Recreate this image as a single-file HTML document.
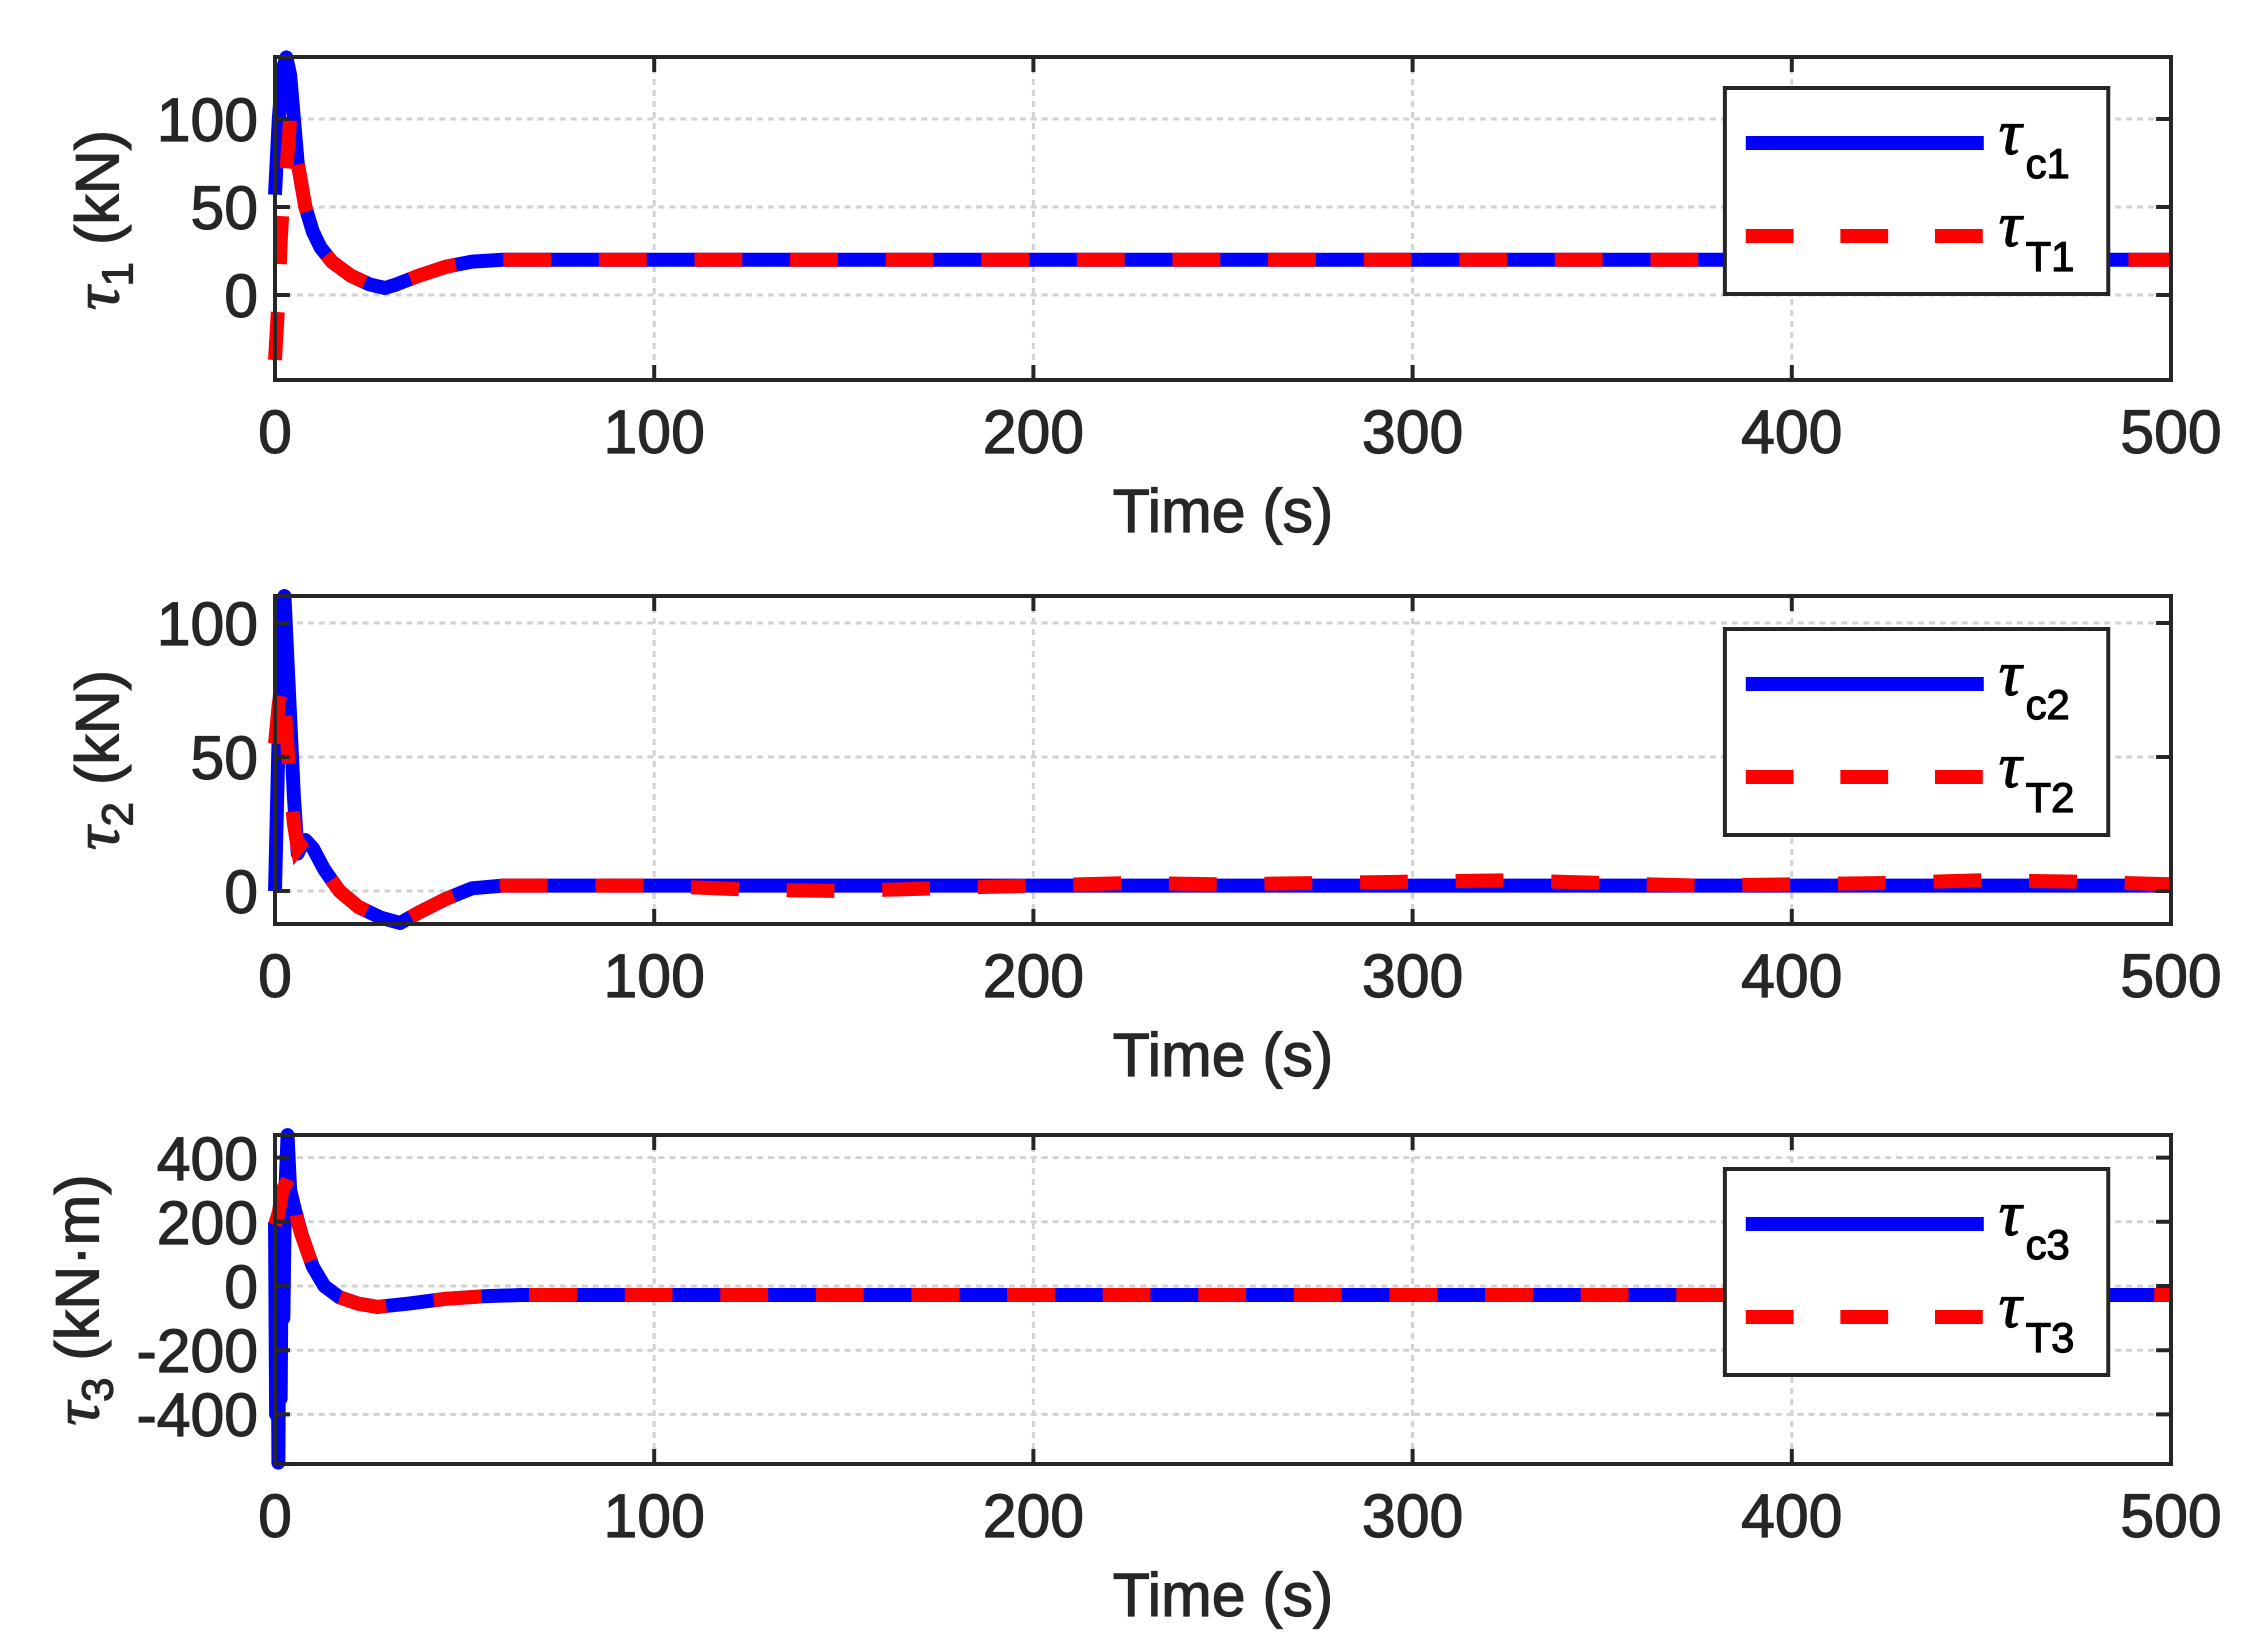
<!DOCTYPE html>
<html><head><meta charset="utf-8"><style>
html,body{margin:0;padding:0;background:#fff}
svg{display:block}
text{font-family:"Liberation Sans",sans-serif;fill:#262626;stroke:#262626;stroke-width:1.2}
.t{font-size:61px}
.g{stroke:#d2d2d2;stroke-width:3;stroke-dasharray:6 5;fill:none}
.ax{stroke:#262626;stroke-width:4;fill:none}
.b{stroke:#0000ff;stroke-width:14;fill:none;stroke-linejoin:round}
.r{stroke:#ff0000;stroke-width:14;fill:none;stroke-dasharray:48 48}
.tau{font-family:"Liberation Serif",serif;font-style:italic;font-size:64px;fill:#000;stroke:#000}
.sub{font-size:42px;fill:#000;stroke:#000}
</style></head><body>
<svg width="2261" height="1646" viewBox="0 0 2261 1646" xmlns="http://www.w3.org/2000/svg">
<g transform="matrix(0.9958,0,0,1,1.155,0)">
<!-- Panel 1 -->
<g>
<path class="g" d="M655.8 57V380M1036.6 57V380M1417.4 57V380M1798.2 57V380M275 119H2179M275 207H2179M275 295H2179"/>
<polyline class="b" points="275,194.7 278.8,119 282.6,69.7 286.4,57.4 290.2,75 294,119 297.8,163 305.5,207 313,231.6 320.7,247.5 332,261.6 351,275.6 370,284.4 385.4,288 396.9,284.4 419.7,275.6 446.4,266.8 473,261.6 503.5,259.8 2179,259.8"/>
<polyline class="r" points="275,360 278.8,295 280.7,242 282.6,207 286.4,172 290.2,119 294,128 297.8,163 305.5,207 313,231.6 320.7,247.5 332,261.6 351,275.6 370,284.4 385.4,288 396.9,284.4 419.7,275.6 446.4,266.8 473,261.6 503.5,259.8 2179,259.8"/>
<rect class="ax" x="275" y="57" width="1904" height="323"/>
<path class="ax" d="M655.8 57v15M1036.6 57v15M1417.4 57v15M1798.2 57v15M655.8 380v-15M1036.6 380v-15M1417.4 380v-15M1798.2 380v-15M275 119h15M275 207h15M275 295h15M2179 119h-15M2179 207h-15M2179 295h-15"/>
<g class="t" text-anchor="end"><text x="258" y="141">100</text><text x="258" y="229">50</text><text x="258" y="317">0</text></g>
<g class="t" text-anchor="middle"><text x="275" y="453">0</text><text x="655.8" y="453">100</text><text x="1036.6" y="453">200</text><text x="1417.4" y="453">300</text><text x="1798.2" y="453">400</text><text x="2179" y="453">500</text>
<text x="1227" y="532">Time (s)</text></g>
<text class="t" transform="translate(118,220) rotate(-90)" text-anchor="middle"><tspan font-family="Liberation Serif,serif" font-style="italic" font-size="66">τ</tspan><tspan font-size="44" dy="14">1</tspan><tspan dy="-14"> (kN)</tspan></text>
<rect x="1731" y="88" width="385" height="206" fill="#fff" stroke="#262626" stroke-width="4"/>
<line x1="1752" y1="143" x2="1991" y2="143" stroke="#0000ff" stroke-width="14"/>
<line x1="1752" y1="236" x2="1991" y2="236" stroke="#ff0000" stroke-width="14" stroke-dasharray="48 47"/>
<text class="tau" x="2006" y="154">τ</text><text class="sub" x="2033" y="178">c1</text>
<text class="tau" x="2006" y="246">τ</text><text class="sub" x="2033" y="271">T1</text>
</g>
<!-- Panel 2 -->
<g>
<path class="g" d="M655.8 596V924M1036.6 596V924M1417.4 596V924M1798.2 596V924M275 623H2179M275 757H2179M275 891H2179"/>
<polyline class="b" points="275,891 278.8,730 282.6,609.6 284.5,596 288.3,676.6 294,797 297.8,853.5 301.7,845.4 305.5,840 313,848 324.5,869.6 339.7,891 358.8,907 381.6,917.8 400.7,923 419.7,912.4 446.4,899 473,888.3 503.5,885.6 2179,885.6"/>
<polyline class="r" points="275,743.6 278.8,703.4 282.6,682 286.4,730.2 290.2,783.8 294,824 297.8,848 301.7,842.8 305.5,840 313,848 324.5,869.6 339.7,891 358.8,907 381.6,917.8 400.7,923 419.7,912.4 446.4,899 473,888.3 503.5,885.6 655.8,885.6 751,889.7 846.2,891 941.4,888.3 1036.6,885.6 1131.8,883 1227,884.3 1322.2,883 1417.4,881.6 1512.6,880.3 1607.8,883 1703,885.6 1798.2,884.3 1893.4,883 1988.6,880.3 2083.8,881.6 2179,884.3"/>
<rect class="ax" x="275" y="596" width="1904" height="328"/>
<path class="ax" d="M655.8 596v15M1036.6 596v15M1417.4 596v15M1798.2 596v15M655.8 924v-15M1036.6 924v-15M1417.4 924v-15M1798.2 924v-15M275 623h15M275 757h15M275 891h15M2179 623h-15M2179 757h-15M2179 891h-15"/>
<g class="t" text-anchor="end"><text x="258" y="645">100</text><text x="258" y="779">50</text><text x="258" y="913">0</text></g>
<g class="t" text-anchor="middle"><text x="275" y="997">0</text><text x="655.8" y="997">100</text><text x="1036.6" y="997">200</text><text x="1417.4" y="997">300</text><text x="1798.2" y="997">400</text><text x="2179" y="997">500</text>
<text x="1227" y="1076">Time (s)</text></g>
<text class="t" transform="translate(118,760) rotate(-90)" text-anchor="middle"><tspan font-family="Liberation Serif,serif" font-style="italic" font-size="66">τ</tspan><tspan font-size="44" dy="14">2</tspan><tspan dy="-14"> (kN)</tspan></text>
<rect x="1731" y="629" width="385" height="206" fill="#fff" stroke="#262626" stroke-width="4"/>
<line x1="1752" y1="684" x2="1991" y2="684" stroke="#0000ff" stroke-width="14"/>
<line x1="1752" y1="777" x2="1991" y2="777" stroke="#ff0000" stroke-width="14" stroke-dasharray="48 47"/>
<text class="tau" x="2006" y="695">τ</text><text class="sub" x="2033" y="719">c2</text>
<text class="tau" x="2006" y="787">τ</text><text class="sub" x="2033" y="812">T2</text>
</g>
<!-- Panel 3 -->
<g>
<path class="g" d="M655.8 1135V1464M1036.6 1135V1464M1417.4 1135V1464M1798.2 1135V1464M275 1157.6H2179M275 1221.8H2179M275 1286H2179M275 1350.2H2179M275 1414.4H2179"/>
<polyline class="b" points="275,1221.8 276.1,1414.4 277.3,1237.9 278.4,1462.6 279.6,1254 280.7,1398.4 281.9,1221.8 283.4,1318 284.9,1205.8 287.6,1135.1 290.2,1189.7 294,1205.8 301.7,1234.6 313,1266.7 324.5,1286 339.7,1297.2 358.8,1303.7 377.8,1306.9 408.3,1303.7 446.4,1298.8 484.4,1296.3 522.5,1295 2179,1295"/>
<polyline class="r" points="275,1225 278.8,1212.2 282.6,1189.7 286.4,1183.3 290.2,1173.6 294,1196.1 297.8,1221.8 301.7,1234.6 313,1266.7 324.5,1286 339.7,1297.2 358.8,1303.7 377.8,1306.9 408.3,1303.7 446.4,1298.8 484.4,1296.3 522.5,1295 2179,1295"/>
<rect class="ax" x="275" y="1135" width="1904" height="329"/>
<path class="ax" d="M655.8 1135v15M1036.6 1135v15M1417.4 1135v15M1798.2 1135v15M655.8 1464v-15M1036.6 1464v-15M1417.4 1464v-15M1798.2 1464v-15M275 1157.6h15M275 1221.8h15M275 1286h15M275 1350.2h15M275 1414.4h15M2179 1157.6h-15M2179 1221.8h-15M2179 1286h-15M2179 1350.2h-15M2179 1414.4h-15"/>
<g class="t" text-anchor="end"><text x="258" y="1180">400</text><text x="258" y="1244">200</text><text x="258" y="1308">0</text><text x="258" y="1372">-200</text><text x="258" y="1436">-400</text></g>
<g class="t" text-anchor="middle"><text x="275" y="1537">0</text><text x="655.8" y="1537">100</text><text x="1036.6" y="1537">200</text><text x="1417.4" y="1537">300</text><text x="1798.2" y="1537">400</text><text x="2179" y="1537">500</text>
<text x="1227" y="1616">Time (s)</text></g>
<text class="t" transform="translate(98,1300) rotate(-90)" text-anchor="middle"><tspan font-family="Liberation Serif,serif" font-style="italic" font-size="66">τ</tspan><tspan font-size="44" dy="14">3</tspan><tspan dy="-14"> (kN·m)</tspan></text>
<rect x="1731" y="1169" width="385" height="206" fill="#fff" stroke="#262626" stroke-width="4"/>
<line x1="1752" y1="1224" x2="1991" y2="1224" stroke="#0000ff" stroke-width="14"/>
<line x1="1752" y1="1317" x2="1991" y2="1317" stroke="#ff0000" stroke-width="14" stroke-dasharray="48 47"/>
<text class="tau" x="2006" y="1235">τ</text><text class="sub" x="2033" y="1259">c3</text>
<text class="tau" x="2006" y="1327">τ</text><text class="sub" x="2033" y="1352">T3</text>
</g>
</g>
</svg>
</body></html>
